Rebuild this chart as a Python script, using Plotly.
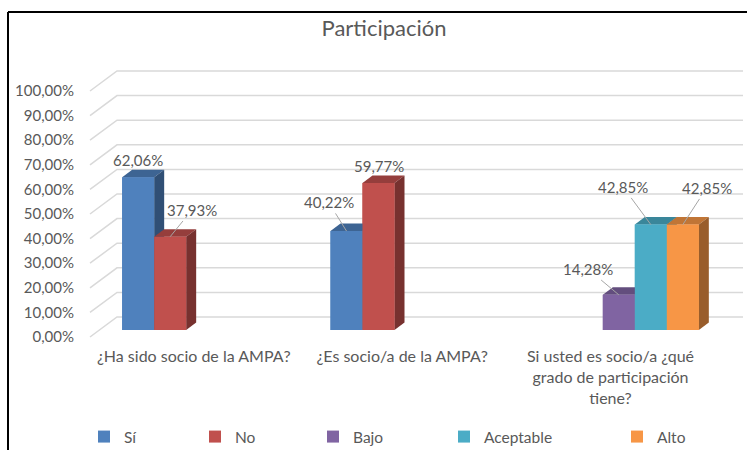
import plotly.graph_objects as go

# ---------------- data ----------------
categories = ["¿Ha sido socio de la AMPA?", "¿Es socio/a de la AMPA?",
              "Si usted es socio/a ¿qué<br>grado de participación<br>tiene?"]
series_names = ["Sí", "No", "Bajo", "Aceptable", "Alto"]
si_values = [0.6206, 0.4022, None]
no_values = [0.3793, 0.5977, None]
bajo_values = [None, None, 0.1428]
aceptable_values = [None, None, 0.4285]
alto_values = [None, None, 0.4285]
y_tick_values = [0, 0.1, 0.2, 0.3, 0.4, 0.5, 0.6, 0.7, 0.8, 0.9, 1.0]

series_values = [si_values, no_values, bajo_values, aceptable_values, alto_values]
colors = ["#4F81BD", "#C0504D", "#8064A2", "#4BACC6", "#F79646"]

# ---------------- geometry / style ----------------
W, H = 747, 450
L, R, T, B = 98, 24, 60, 110
plot_w = W - L - R
plot_h = H - T - B
x_range = [-0.5, 2.5]
px_per_x = plot_w / (x_range[1] - x_range[0])
px_per_y = 246.0
y0_px = 330  # pixel row for value 0
y_range = [-(T + plot_h - y0_px) / px_per_y, (y0_px - T) / px_per_y]

bar_w = 32 / px_per_x
depth_dx = 10 / px_per_x
depth_dy = 7.5 / px_per_y
label_shift = 7 / px_per_y     # tick label vs bar plane
wall_shift = 13 / px_per_y     # back wall vs bar plane
FONT = "Lato, Carlito, Calibri, sans-serif"
TXT = "#595959"


def shade(hexcol, f):
    h = hexcol.lstrip("#")
    r, g, b = (int(h[i:i + 2], 16) for i in (0, 2, 4))
    return "rgb(%d,%d,%d)" % (r * f, g * f, b * f)


def px2paper_x(px):
    return (px - L) / plot_w


def px2paper_y(py):
    return (T + plot_h - py) / plot_h


def fmt(v):
    return ("%.2f" % (v * 100)).replace(".", ",") + "%"


fig = go.Figure()

# front faces via real bar traces
for k, (name, vals, col) in enumerate(zip(series_names, series_values, colors)):
    fig.add_trace(go.Bar(
        name=name, x=[0, 1, 2], y=vals, width=bar_w,
        offset=-2.5 * bar_w + k * bar_w, marker=dict(color=col, line=dict(width=0)),
        legend="legend" if k == 0 else "legend%d" % (k + 1),
        hovertemplate=name + ": %{y:.2%}<extra></extra>"))

# pseudo-3D faces (top, side, front redraw) computed from the same values
for c in range(3):
    for k, (vals, col) in enumerate(zip(series_values, colors)):
        v = vals[c]
        if v is None:
            continue
        xl = c - 2.5 * bar_w + k * bar_w
        xr = xl + bar_w
        top = dict(x=[xl, xl + depth_dx, xr + depth_dx, xr, xl],
                   y=[v, v + depth_dy, v + depth_dy, v, v], fc=shade(col, 0.78))
        side = dict(x=[xr, xr + depth_dx, xr + depth_dx, xr, xr],
                    y=[0, depth_dy, v + depth_dy, v, 0], fc=shade(col, 0.62))
        front = dict(x=[xl, xr, xr, xl, xl], y=[0, 0, v, v, 0], fc=col)
        for face in (top, side, front):
            fig.add_trace(go.Scatter(
                x=face["x"], y=face["y"], fill="toself", fillcolor=face["fc"],
                mode="lines", line=dict(width=0), showlegend=False,
                hoverinfo="skip"))

# back-wall gridlines with the diagonal to the labels
shapes = []
for v in y_tick_values:
    shapes.append(dict(
        type="path", xref="paper", yref="y", layer="below",
        path="M %f,%f L %f,%f L %f,%f" % (
            px2paper_x(90), v - label_shift, px2paper_x(117), v + wall_shift,
            px2paper_x(743), v + wall_shift),
        line=dict(color="#D9D9D9", width=1.5)))
# chart border (top and left visible)
shapes.append(dict(type="line", xref="paper", yref="paper",
                   x0=px2paper_x(8), x1=px2paper_x(760), y0=px2paper_y(12), y1=px2paper_y(12),
                   line=dict(color="#000000", width=2)))
shapes.append(dict(type="line", xref="paper", yref="paper",
                   x0=px2paper_x(8), x1=px2paper_x(8), y0=px2paper_y(12), y1=px2paper_y(460),
                   line=dict(color="#000000", width=2)))

# data labels
label_pos = {  # (series index, category): (ax, ay) in px, or None for plain label
    (0, 0): None, (1, 0): (22, -27), (0, 1): (-18, -29), (1, 1): None,
    (2, 2): (-31, -26), (3, 2): (-28, -38), (4, 2): (24, -37)}
annotations = []
for (k, c), off in label_pos.items():
    v = series_values[k][c]
    xc = c - 2.5 * bar_w + k * bar_w + bar_w / 2
    a = dict(x=xc, y=v, xref="x", yref="y", text=fmt(v),
             font=dict(family=FONT, size=15, color=TXT))
    if off is None:
        a.update(showarrow=False, yshift=17, xanchor="center", yanchor="middle")
    else:
        a.update(showarrow=True, ax=off[0], ay=off[1], arrowhead=0, arrowwidth=1,
                 arrowcolor="#A6A6A6", standoff=0, startstandoff=1)
    annotations.append(a)

# legends: one per series, laid out like the original
legend_text_px = [118, 229, 347, 478, 651]
layout_legends = {}
for k, tx in enumerate(legend_text_px):
    key = "legend" if k == 0 else "legend%d" % (k + 1)
    layout_legends[key] = dict(
        orientation="h", xref="container", yref="container",
        x=(tx - 34) / W, y=1 - 437 / H, xanchor="left", yanchor="middle",
        font=dict(family=FONT, size=15.5, color=TXT), bgcolor="rgba(0,0,0,0)",
        itemwidth=30)

fig.update_layout(
    width=W, height=H, margin=dict(l=L, r=R, t=T, b=B),
    paper_bgcolor="white", plot_bgcolor="white",
    separators=",.",
    barmode="overlay",
    showlegend=True,
    title=dict(text="Participación", x=384 / W, xref="container", xanchor="center",
               y=1 - 28 / H, yref="container", yanchor="middle",
               font=dict(family=FONT, size=22, color=TXT)),
    xaxis=dict(range=x_range, tickvals=[i - 0.04 for i in range(3)], ticktext=categories,
               showgrid=False, zeroline=False, showline=False, ticks="",
               tickfont=dict(family=FONT, size=16, color=TXT), ticklabelstandoff=5,
               fixedrange=True),
    yaxis=dict(range=y_range, visible=False, fixedrange=True),
    yaxis2=dict(range=[y_range[0] + label_shift, y_range[1] + label_shift],
                overlaying="y", side="left", tickvals=y_tick_values, tickformat=".2%",
                showgrid=False, zeroline=False, showline=False, ticks="",
                tickfont=dict(family=FONT, size=15, color=TXT), ticklabelstandoff=23,
                fixedrange=True),
    shapes=shapes, annotations=annotations,
    **layout_legends)

# invisible helper trace that activates the label axis
fig.add_trace(go.Scatter(x=[0], y=[0.5], yaxis="y2", mode="markers",
                         marker=dict(opacity=0), showlegend=False, hoverinfo="skip"))

fig.write_html("out.html", config={"displayModeBar": False},
               post_script="document.body.style.margin='0';document.body.style.overflow='hidden';")
